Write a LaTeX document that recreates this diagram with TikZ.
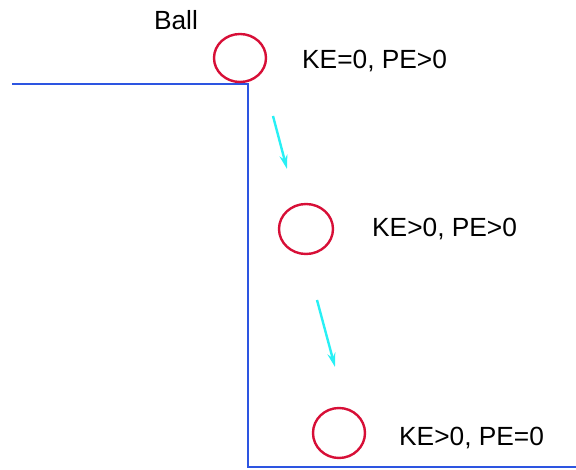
\documentclass[tikz,border=0pt]{standalone}
\usepackage{fontspec}
\setmainfont{Liberation Sans}
\usetikzlibrary{shapes.geometric,arrows.meta}
\definecolor{wallblue}{RGB}{45,85,225}
\definecolor{ballred}{RGB}{215,15,55}
\definecolor{arrowcyan}{RGB}{40,240,245}
\begin{document}
\begin{tikzpicture}[x=1pt,y=-1pt,
  ball/.style={draw=ballred,line width=2.4pt,ellipse,inner sep=0pt,minimum width=52pt,minimum height=48pt},
  lbl/.style={font=\fontsize{26.3}{30}\selectfont,anchor=west,inner sep=0pt},
  wall/.style={draw=wallblue,line width=2.4pt},
  fall/.style={draw=arrowcyan,line width=2.4pt,-{Stealth[length=14pt,width=8pt]}}]
\useasboundingbox (0,0) rectangle (576,470);
\draw[wall] (12,84) -- (248,84) -- (248,467) -- (577,467);
\node[ball] (b1) at (240,58) {};
\node[ball,minimum width=54pt,minimum height=50pt] (b2) at (306,229) {};
\node[ball,minimum height=50pt] (b3) at (339,433) {};
\node[lbl,anchor=center] (ballt) at (176,20) {Ball};
\node[lbl] (t1) at (302,61) {KE=0, PE>0};
\node[lbl] (t2) at (372,229) {KE>0, PE>0};
\node[lbl] (t3) at (399,438) {KE>0, PE=0};
\coordinate (a1s) at (273,116);
\coordinate (a1e) at (287,169);
\coordinate (a2s) at (317,300);
\coordinate (a2e) at (335,367);
\draw[fall] (a1s) -- (a1e);
\draw[fall] (a2s) -- (a2e);
\end{tikzpicture}
\end{document}
